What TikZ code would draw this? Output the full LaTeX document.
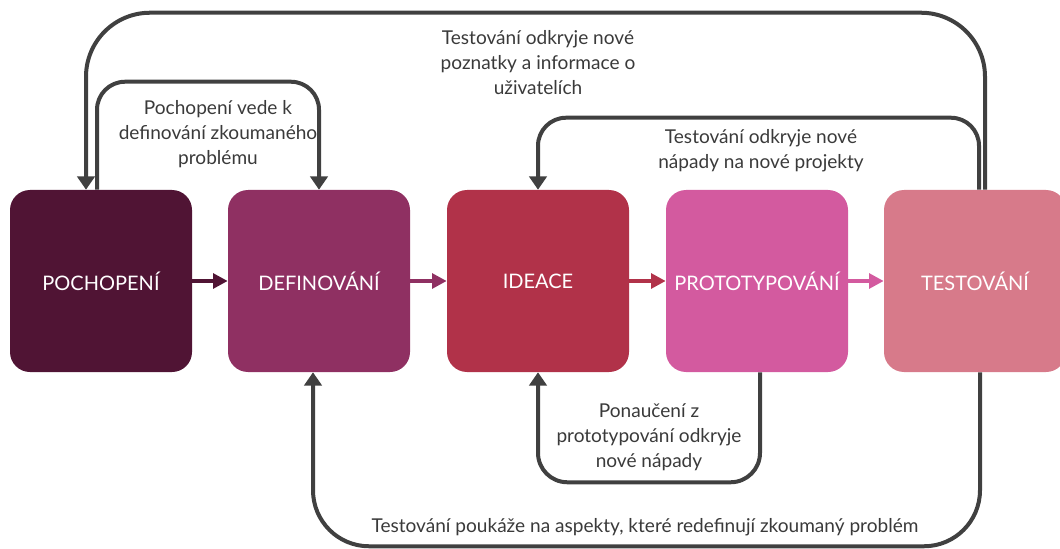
\documentclass[tikz,border=0pt]{standalone}
\usepackage{fontspec}
\setmainfont{Lato}
\usetikzlibrary{arrows.meta,calc}

\definecolor{cPoch}{HTML}{501434}
\definecolor{cDef}{HTML}{8F3062}
\definecolor{cIde}{HTML}{B13249}
\definecolor{cPro}{HTML}{D35A9F}
\definecolor{cTes}{HTML}{D77A8A}
\definecolor{loopgray}{HTML}{404040}
\definecolor{labelgray}{HTML}{3A3A3A}

\tikzset{
  stage/.style={rectangle, rounded corners=15pt, minimum width=136.5pt,
    minimum height=136.5pt, inner sep=0pt, text=white,
    font=\fontsize{15}{18}\selectfont},
  flow/.style={line width=3.2pt, -{Triangle[width=11pt,length=11pt]}},
  loop/.style={draw=loopgray, line width=3pt,
    -{Triangle[width=13pt,length=10pt]}},
  note/.style={text=labelgray, align=center,
    font=\fontsize{14.3}{18.75}\selectfont}
}

\begin{document}
\begin{tikzpicture}[x=0.75pt,y=-0.75pt]
\useasboundingbox (0,0) rectangle (1060,549);

% the five stages
\node[stage, fill=cPoch] (b1) at (101,281) {POCHOPENÍ};
\node[stage, fill=cDef]  (b2) at (319,281) {DEFINOVÁNÍ};
\node[stage, fill=cIde]  (b3) at (538,281) {IDEACE};
\node[stage, fill=cPro]  (b4) at (757,281) {PROTOTYPOVÁNÍ};
\node[stage, fill=cTes]  (b5) at (975,281) {TESTOVÁNÍ};

% forward flow between stages
\draw[flow, cPoch] (b1.east) -- (b2.west);
\draw[flow, cDef]  (b2.east) -- (b3.west);
\draw[flow, cIde]  (b3.east) -- (b4.west);
\draw[flow, cPro]  (b4.east) -- (b5.west);

% feedback loops above the stages
\draw[loop, rounded corners=48pt]
  ($(b5.north)+(10,0)$) |- ($(b1.north)+(-15,-177)$) -- ($(b1.north)+(-15,0)$);
\draw[loop, rounded corners=21pt]
  ($(b1.north)+(-4,0)$) |- ($(b2.north)+(0,-108)$) -- (b2.north);
\draw[loop, rounded corners=21pt]
  ($(b5.north)+(4,0)$) |- ($(b3.north)+(0,-72)$) -- (b3.north);

% feedback loops below the stages
\draw[loop, rounded corners=22pt]
  ($(b4.south)+(3,0)$) |- ($(b3.south)+(0,110)$) -- (b3.south);
\draw[loop, rounded corners=42pt]
  ($(b5.south)+(5,0)$) |- ($(b2.south)+(-6,174)$) -- ($(b2.south)+(-6,0)$);

% loop descriptions
\node[note] (n1) at (218,134) {Pochopení vede k\\definování zkoumaného\\problému};
\node[note] (n2) at (538,63) {Testování odkryje nové\\poznatky a informace o\\uživatelích};
\node[note] (n3) at (761,151) {Testování odkryje nové\\nápady na nové projekty};
\node[note] (n4) at (649,437) {Ponaučení z\\prototypování odkryje\\nové nápady};
\node[note] (n5) at (645,527) {Testování poukáže na aspekty, které redefinují zkoumaný problém};
\end{tikzpicture}
\end{document}
